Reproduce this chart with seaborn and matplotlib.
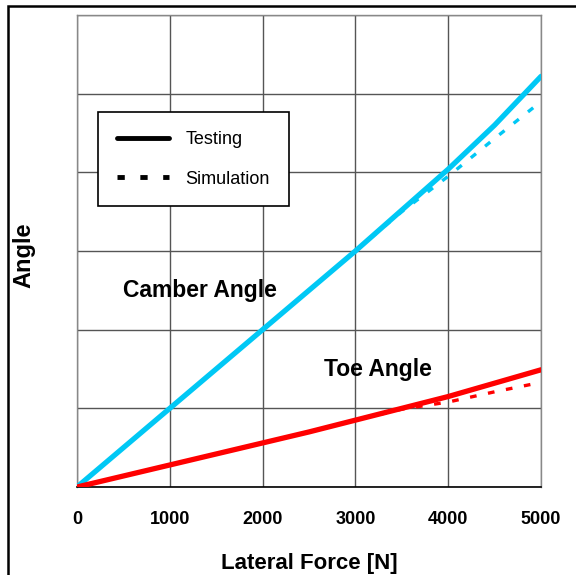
import matplotlib
matplotlib.use("Agg")
import matplotlib.pyplot as plt
from matplotlib.lines import Line2D
from matplotlib.patches import Rectangle
import seaborn as sns
import pandas as pd

force = [0, 500, 1000, 1500, 2000, 2500, 3000, 3500, 4000, 4500, 5000]
camber_testing = [0, 0.5, 1.0, 1.5, 2.0, 2.5, 3.0, 3.52, 4.04, 4.6, 5.22]
camber_simulation = [0, 0.5, 1.0, 1.5, 2.0, 2.5, 3.0, 3.5, 3.95, 4.43, 4.9]
toe_testing = [0, 0.14, 0.28, 0.42, 0.56, 0.70, 0.85, 1.0, 1.15, 1.32, 1.49]
toe_simulation = [0, 0.14, 0.28, 0.42, 0.56, 0.70, 0.85, 0.99, 1.08, 1.21, 1.33]
xticks = [0, 1000, 2000, 3000, 4000, 5000]

sns.set_theme(style="white")
plt.rcParams['font.family'] = ['Liberation Sans', 'DejaVu Sans']
plt.rcParams['text.color'] = 'black'
plt.rcParams['axes.labelcolor'] = 'black'
plt.rcParams['xtick.color'] = 'black'

cyan = "#00C8F5"
red = "#FF0000"

fig = plt.figure(figsize=(5.76, 5.75), dpi=100)
ax = fig.add_axes([77/576, 1-487/575, (541-77)/576, (487-15)/575])

df = pd.DataFrame({"force": force, "ct": camber_testing, "cs": camber_simulation,
                   "tt": toe_testing, "ts": toe_simulation})

sns.lineplot(data=df, x="force", y="cs", ax=ax, color=cyan, lw=2.4, zorder=3)
ax.lines[-1].set_dashes([2, 3.5])
sns.lineplot(data=df, x="force", y="ts", ax=ax, color=red, lw=2.4, zorder=3)
ax.lines[-1].set_dashes([2, 3.5])
sns.lineplot(data=df, x="force", y="ct", ax=ax, color=cyan, lw=3.8, zorder=4)
sns.lineplot(data=df, x="force", y="tt", ax=ax, color=red, lw=3.8, zorder=4)

ax.set_xlim(0, 5000)
ax.set_ylim(0, 6)
ax.set_xticks(xticks)
ax.set_xticklabels([str(v) for v in xticks], fontsize=13, fontweight='bold', color='black')
ax.set_yticks(range(7))
ax.set_yticklabels([])
ax.tick_params(axis='both', length=0, pad=17)
ax.set_xticks([0, 5000], minor=True)
ax.tick_params(axis='x', which='minor', length=5, width=1, color='#333333', direction='out')
ax.grid(True, color='#555555', lw=1)
ax.set_axisbelow(True)
for s in ['top', 'right', 'left']:
    ax.spines[s].set_color('#888888')
    ax.spines[s].set_linewidth(1)
ax.spines['bottom'].set_color('black')
ax.spines['bottom'].set_linewidth(1.2)

ax.set_xlabel("Lateral Force [N]", fontsize=16, fontweight='bold', color='black')
ax.xaxis.set_label_coords(0.5, -0.14)
ax.set_ylabel("Angle", fontsize=17, fontweight='bold', color='black')
ax.yaxis.set_label_coords((35-77)/464, 0.49)

ax.text(496, 2.5, "Camber Angle", fontsize=16.5, fontweight='bold', va='center', ha='left', color='black')
ax.text(2662, 1.49, "Toe Angle", fontsize=16.5, fontweight='bold', va='center', ha='left', color='black')

handles = [Line2D([], [], color='black', lw=3.5),
           Line2D([], [], color='black', lw=3.5, dashes=[1.5, 3.2])]
leg = ax.legend(handles, ["Testing", "Simulation"], loc='upper left',
                bbox_to_anchor=((98-77)/464, (487-112)/472), borderaxespad=0,
                fancybox=False, framealpha=1, edgecolor='black', fontsize=13,
                handlelength=2.9, handletextpad=0.9, borderpad=1.05, labelspacing=1.25)
for t in leg.get_texts():
    t.set_color('black')
leg.get_frame().set_linewidth(1.2)
leg.set_zorder(5)

fig.patches.append(Rectangle((8/576, -0.2), 1.5, 1.2 - 6/575, transform=fig.transFigure,
                             fill=False, edgecolor='black', lw=1.8, clip_on=False))

fig.savefig("out.png", dpi=100, facecolor='white')
